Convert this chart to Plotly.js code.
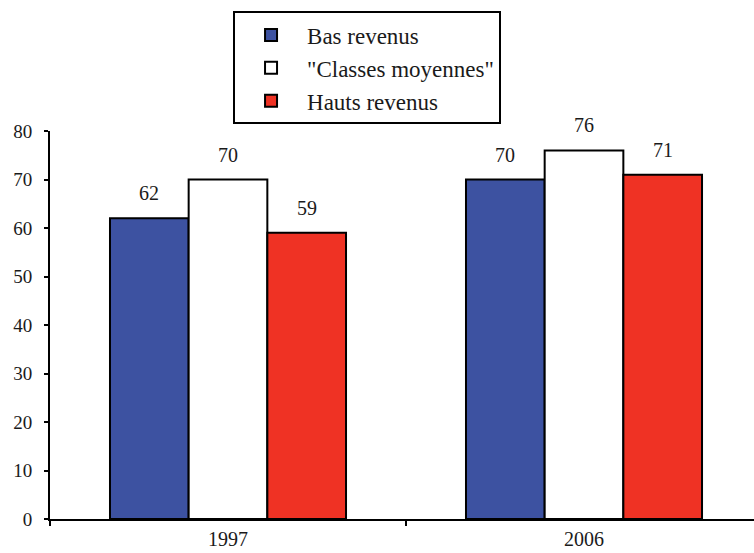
<!DOCTYPE html>
<html><head><meta charset="utf-8">
<script src="https://cdn.plot.ly/plotly-3.0.1.min.js"></script>
<style>html,body{margin:0;padding:0;background:#fff}#chart{width:754px;height:553px}</style>
</head><body><div id="chart"></div>
<script>
const years = ['1997', '2006'];
const seriesNames = ['Bas revenus', '"Classes moyennes"', 'Hauts revenus'];
const basRevenus = [62, 70];
const classesMoyennes = [70, 76];
const hautsRevenus = [59, 71];
const colors = ['#3d52a1', '#ffffff', '#ef3224'];

const allValues = [basRevenus, classesMoyennes, hautsRevenus];
const bargap = 0.337;
const serif = 'Liberation Serif';

const traces = allValues.map((vals, j) => ({
  type: 'bar', name: seriesNames[j], x: years, y: vals,
  marker: {color: colors[j], line: {color: '#000', width: 2}},
  hoverinfo: 'skip'
}));

const annotations = [];
allValues.forEach((vals, j) => {
  vals.forEach((v, i) => {
    annotations.push({
      x: i + (j - 1) * (1 - bargap) / 3, y: v, xref: 'x', yref: 'y',
      text: String(v), showarrow: false, yshift: 25, yanchor: 'middle',
      font: {family: serif, size: 20, color: '#1a1a1a'}
    });
  });
});

const layout = {
  width: 754, height: 553,
  margin: {l: 50, r: 0, t: 131, b: 34},
  paper_bgcolor: '#fff', plot_bgcolor: '#fff',
  font: {family: serif, color: '#1a1a1a'},
  barmode: 'group', bargap: bargap, bargroupgap: 0,
  showlegend: true,
  legend: {
    x: 0.26, xanchor: 'left', y: 1.308, yanchor: 'top',
    bordercolor: '#000', borderwidth: 2, bgcolor: '#fff',
    font: {family: serif, size: 23, color: '#1a1a1a'},
    itemwidth: 62, traceorder: 'normal'
  },
  xaxis: {
    type: 'category', range: [-0.5, 1.4775],
    showline: true, linecolor: '#000', linewidth: 2,
    ticks: 'outside', tickson: 'boundaries', ticklen: 5, tickcolor: '#000', tickwidth: 2,
    showgrid: false, zeroline: false,
    tickfont: {family: serif, size: 20, color: '#1a1a1a'},
    ticklabelstandoff: 1
  },
  yaxis: {
    range: [0, 80], tickvals: [0,10,20,30,40,50,60,70,80],
    showline: true, linecolor: '#000', linewidth: 2,
    ticks: 'outside', ticklen: 4, tickcolor: '#000', tickwidth: 2,
    showgrid: false, zeroline: false,
    tickfont: {family: serif, size: 19, color: '#1a1a1a'},
    ticklabelstandoff: 8
  },
  annotations: annotations
};

Plotly.newPlot('chart', traces, layout, {staticPlot: true, displayModeBar: false});
</script>
</body></html>
